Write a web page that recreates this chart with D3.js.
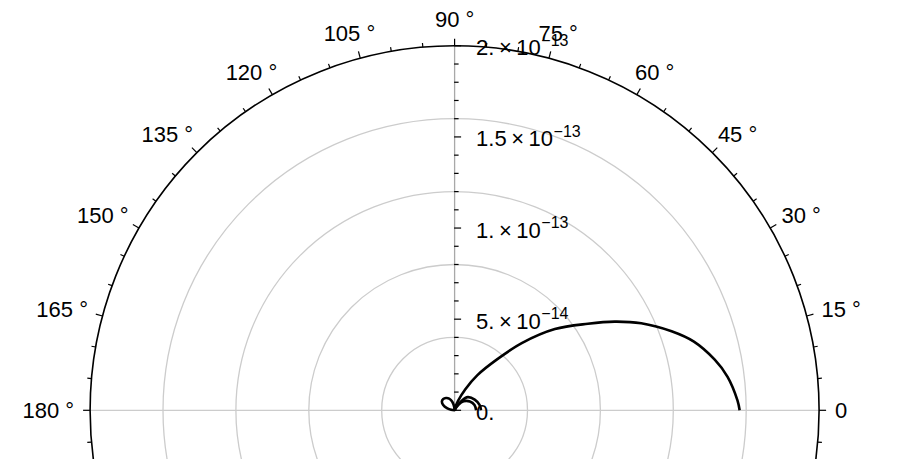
<!DOCTYPE html>
<html><head><meta charset="utf-8">
<script src="https://cdn.jsdelivr.net/npm/d3@7"></script>
<style>
body{margin:0;background:#fff}
svg{display:block}
text{font-family:"Liberation Sans",Arial,sans-serif;fill:#000}
</style>
</head><body><svg id="c" width="913" height="459"></svg>
<script>
// ---- data (angles in degrees, radii in the plotted quantity) ----
const mainTheta = [0,2,7,11,16,20,25,29,33,39,45,50,57,63,70,76,80,88,95,105,115,125,135,145,155,165,172,180];
const mainR = [15.64e-14,15.53e-14,15.09e-14,14.54e-14,13.66e-14,12.67e-14,11.30e-14,10.04e-14,8.72e-14,7.08e-14,5.21e-14,3.68e-14,2.30e-14,1.30e-14,0.55e-14,0.15e-14,0,0.05e-14,0.16e-14,0.49e-14,0.71e-14,0.82e-14,0.88e-14,0.85e-14,0.69e-14,0.41e-14,0.19e-14,0];
const sideTheta = [0,12,28,45,54,62,70];
const sideR = [1.45e-14,1.40e-14,1.25e-14,1.02e-14,0.62e-14,0.25e-14,0];
const side2Theta = [0,15,30,45,55,65];
const side2R = [1.18e-14,1.13e-14,0.97e-14,0.70e-14,0.36e-14,0];

const angleTickValues = [0,15,30,45,60,75,90,105,120,135,150,165,180];
const angleTickLabels = ["0","15 °","30 °","45 °","60 °","75 °","90 °","105 °","120 °","135 °","150 °","165 °","180 °"];
const radialTickValues = [0,5e-14,1e-13,1.5e-13,2e-13];
const radialMantissa = ["0.","5.","1.","1.5","2."];
const radialExponent = ["","−14","−13","−13","−13"];
const gridRadii = [4e-14,8e-14,1.2e-13,1.6e-13];
const rMax = 2e-13;

// ---- layout ----
const svg = d3.select("#c");
const cx = 454.6, cy = 410.3, R = 364.5;
const r = d3.scaleLinear().domain([0, rMax]).range([0, R]);
const g = svg.append("g").attr("transform", `translate(${cx},${cy})`);
const rad = d => d * Math.PI / 180;

// grid circles
g.selectAll("circle.grid").data(gridRadii).join("circle")
  .attr("r", d => r(d)).attr("fill", "none")
  .attr("stroke", "#cccccc").attr("stroke-width", 1.3);
// horizontal diameter (0/180 gridline)
g.append("line").attr("x1", -R).attr("x2", R).attr("y1", 0).attr("y2", 0)
  .attr("stroke", "#cccccc").attr("stroke-width", 1.3);
// radial axis along 90°
g.append("line").attr("x1", 0).attr("x2", 0).attr("y1", 0).attr("y2", -R)
  .attr("stroke", "#a8a8a8").attr("stroke-width", 1.3);

// radial ticks
const minorRadial = d3.range(0, 21).map(i => i * 1e-14);
g.selectAll("line.rt").data(minorRadial).join("line")
  .attr("x1", -0.5).attr("x2", (d, i) => (i % 5 === 0 ? 6.5 : 4))
  .attr("y1", d => -r(d)).attr("y2", d => -r(d))
  .attr("stroke", "#000").attr("stroke-width", 1.2);

// outer circle
g.append("circle").attr("r", R).attr("fill", "none")
  .attr("stroke", "#000").attr("stroke-width", 1.6);

// angular ticks every 5°, outward
const angTicks = d3.range(0, 360, 5);
g.selectAll("line.at").data(angTicks).join("line")
  .each(function(a) {
    const t = rad(a), len = a % 15 === 0 ? 7 : 4.2;
    d3.select(this)
      .attr("x1", R * Math.cos(t)).attr("y1", -R * Math.sin(t))
      .attr("x2", (R + len) * Math.cos(t)).attr("y2", -(R + len) * Math.sin(t));
  })
  .attr("stroke", "#000").attr("stroke-width", 1.2);

// curves
const line = d3.lineRadial()
  .angle(d => Math.PI / 2 - rad(d[0]))
  .radius(d => r(d[1]))
  .curve(d3.curveCatmullRom.alpha(0.5));
const series = [
  [mainTheta, mainR],
  [sideTheta, sideR],
  [side2Theta, side2R]
];
series.forEach(([th, rr]) => {
  g.append("path").datum(th.map((t, i) => [t, rr[i]]))
    .attr("d", line).attr("fill", "none")
    .attr("stroke", "#000").attr("stroke-width", 2.6)
    .attr("stroke-linejoin", "round");
});

// angle labels
const fs = 22, gap = 16, hh = 10.3;
angleTickValues.forEach((a, i) => {
  const t = rad(a);
  const txt = g.append("text").attr("font-size", fs).attr("text-anchor", "middle")
    .text(angleTickLabels[i]);
  const w = txt.node().getComputedTextLength();
  const x = (R + gap) * Math.cos(t) + (w / 2) * Math.cos(t);
  const y = -(R + gap) * Math.sin(t) - hh * Math.sin(t);
  txt.attr("x", x).attr("y", y + 0.358 * fs);
});

// radial labels
radialTickValues.forEach((v, i) => {
  const y = -r(v) + 9.5;
  const txt = g.append("text").attr("font-size", fs).attr("x", 21.5).attr("y", y);
  txt.append("tspan").text(radialMantissa[i]);
  if (radialExponent[i]) {
    txt.append("tspan").attr("dx", 4.5).text("×");
    txt.append("tspan").attr("dx", 4.5).text("10");
    txt.append("tspan").attr("dx", 0.5).attr("dy", -9.4).attr("font-size", 16).text(radialExponent[i]);
  }
});
</script>
</body></html>
